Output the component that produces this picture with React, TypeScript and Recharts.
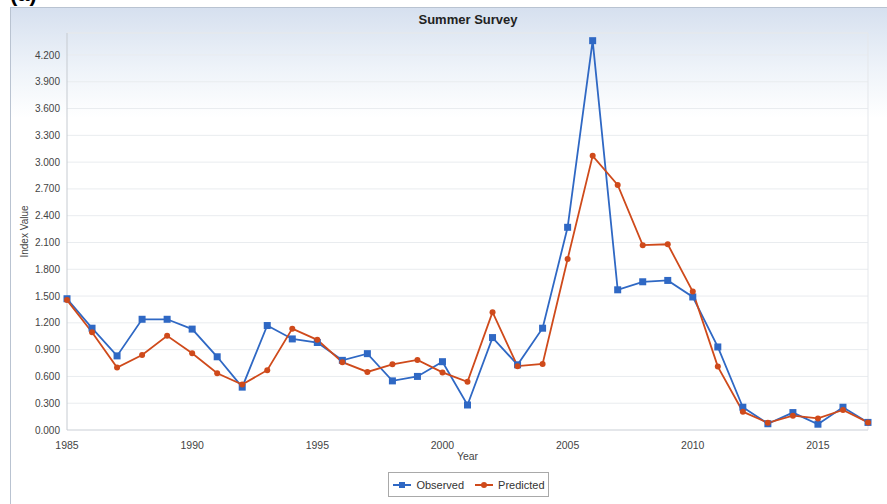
import React from 'react';
import { LineChart, Line, XAxis, YAxis, CartesianGrid, ReferenceLine } from 'recharts';

const years = [
  1985, 1986, 1987, 1988, 1989, 1990, 1991, 1992, 1993, 1994, 1995,
  1996, 1997, 1998, 1999, 2000, 2001, 2002, 2003, 2004, 2005, 2006,
  2007, 2008, 2009, 2010, 2011, 2012, 2013, 2014, 2015, 2016, 2017,
];
const observed = [
  1.47, 1.14, 0.83, 1.24, 1.24, 1.13, 0.82, 0.48, 1.17, 1.02, 0.98,
  0.78, 0.855, 0.55, 0.6, 0.765, 0.28, 1.035, 0.73, 1.14, 2.27, 4.36,
  1.57, 1.66, 1.675, 1.49, 0.93, 0.255, 0.07, 0.195, 0.065, 0.255, 0.085,
];
const predicted = [
  1.455, 1.095, 0.7, 0.84, 1.055, 0.86, 0.635, 0.51, 0.67, 1.135, 1.01,
  0.76, 0.65, 0.735, 0.785, 0.645, 0.54, 1.32, 0.715, 0.74, 1.915, 3.07,
  2.745, 2.07, 2.08, 1.55, 0.71, 0.205, 0.08, 0.16, 0.13, 0.225, 0.085,
];
const yTicks = [0, 0.3, 0.6, 0.9, 1.2, 1.5, 1.8, 2.1, 2.4, 2.7, 3.0, 3.3, 3.6, 3.9, 4.2];
const xTicks = [1985, 1990, 1995, 2000, 2005, 2010, 2015];

const data = years.map((year, i) => ({ year, observed: observed[i], predicted: predicted[i] }));

const BLUE = '#2f68c4';
const RED = '#cf4a1b';
const FONT = '"Liberation Sans", Arial, sans-serif';

// square marker for observed series
const SquareDot = (props: any) => {
  const { cx, cy } = props;
  if (cx == null || cy == null) return null;
  return <rect x={cx - 3.5} y={cy - 3.5} width={7} height={7} fill={BLUE} />;
};

const LegendBox = () => (
  <div
    style={{
      position: 'absolute',
      left: 388,
      top: 472,
      width: 161,
      height: 25,
      border: '1px solid #a9a9a9',
      background: '#fff',
      boxSizing: 'border-box',
      display: 'flex',
      alignItems: 'center',
      justifyContent: 'center',
      fontFamily: FONT,
      fontSize: 11,
      color: '#333',
      gap: 10,
    }}
  >
    <span style={{ display: 'flex', alignItems: 'center' }}>
      <svg width={20} height={10}>
        <line x1={1} y1={5} x2={19} y2={5} stroke={BLUE} strokeWidth={2} />
        <rect x={7} y={2} width={6} height={6} fill={BLUE} />
      </svg>
      <span style={{ marginLeft: 4 }}>Observed</span>
    </span>
    <span style={{ display: 'flex', alignItems: 'center' }}>
      <svg width={20} height={10}>
        <line x1={1} y1={5} x2={19} y2={5} stroke={RED} strokeWidth={2} />
        <circle cx={10} cy={5} r={3} fill={RED} />
      </svg>
      <span style={{ marginLeft: 4 }}>Predicted</span>
    </span>
  </div>
);

export default function App() {
  return (
    <div style={{ position: 'absolute', left: 0, top: 0, width: 887, height: 504, overflow: 'hidden', background: '#fff' }}>
      <div
        style={{
          position: 'absolute',
          left: 0,
          top: -17,
          fontFamily: FONT,
          fontWeight: 'bold',
          fontSize: 22,
          lineHeight: '22px',
          color: '#000',
          paddingLeft: 10,
        }}
      >
        (a)
      </div>
      <div
        style={{
          position: 'absolute',
          left: 10,
          top: 7,
          width: 890,
          height: 510,
          border: '1px solid #b9c3d1',
          background: 'linear-gradient(to bottom, #d6e0ef 0px, #eef3f9 60px, #ffffff 110px)',
        }}
      />
      <div
        style={{
          position: 'absolute',
          left: 0,
          width: 936,
          top: 12,
          textAlign: 'center',
          fontFamily: FONT,
          fontWeight: 'bold',
          fontSize: 13,
          color: '#222',
        }}
      >
        Summer Survey
      </div>
      <div style={{ position: 'absolute', left: 0, top: 0 }}>
        <LineChart
          width={887}
          height={504}
          data={data}
          margin={{ top: 33, right: 19, left: 0, bottom: 0 }}
        >
          <CartesianGrid vertical={false} stroke="#e9ecef" />
          <ReferenceLine y={4.446} stroke="#e4e7eb" />
          <ReferenceLine x={2017} stroke="#e4e7eb" />
          <XAxis
            dataKey="year"
            type="number"
            domain={[1985, 2017]}
            ticks={xTicks}
            height={74}
            tickLine={false}
            axisLine={{ stroke: '#d4d8dd' }}
            tick={{ fill: '#444', fontSize: 10.5, fontFamily: FONT }}
            tickMargin={6}
            label={{ value: 'Year', position: 'insideTop', offset: 23, fill: '#444', fontSize: 10.5, fontFamily: FONT }}
          />
          <YAxis
            type="number"
            domain={[0, 4.446]}
            ticks={yTicks}
            width={67}
            tickLine={false}
            tickSize={0}
            tickMargin={7}
            axisLine={{ stroke: '#c6cbd1' }}
            tickFormatter={(v: number) => v.toFixed(3)}
            tick={{ fill: '#444', fontSize: 10, fontFamily: FONT }}
            label={{
              value: 'Index Value',
              angle: -90,
              position: 'insideLeft',
              offset: 24,
              style: { textAnchor: 'middle', fill: '#444', fontSize: 10, fontFamily: FONT },
            }}
          />
          <Line
            type="linear"
            dataKey="observed"
            name="Observed"
            stroke={BLUE}
            strokeWidth={1.8}
            dot={<SquareDot />}
            activeDot={false}
            isAnimationActive={false}
          />
          <Line
            type="linear"
            dataKey="predicted"
            name="Predicted"
            stroke={RED}
            strokeWidth={1.8}
            dot={{ r: 3, fill: RED, stroke: RED, strokeWidth: 0 }}
            activeDot={false}
            isAnimationActive={false}
          />
        </LineChart>
      </div>
      <LegendBox />
    </div>
  );
}
